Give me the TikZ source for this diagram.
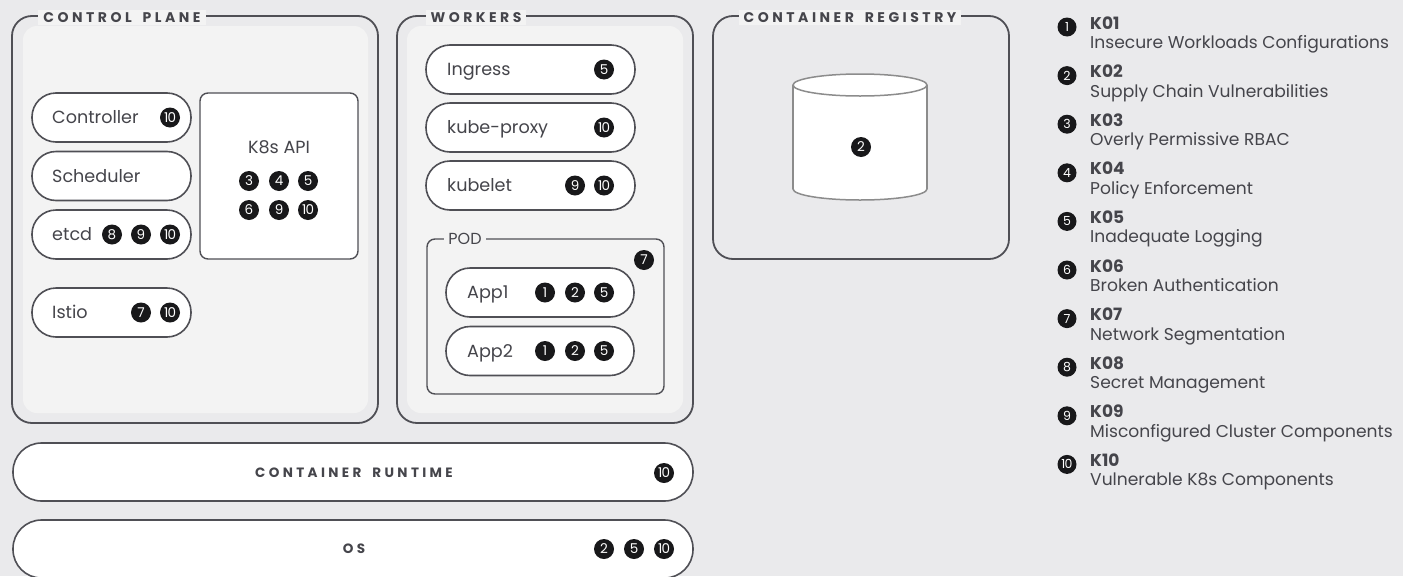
\documentclass[tikz,border=0pt]{standalone}
\usepackage{fontspec}
\setmainfont{Poppins}
\newfontfamily\spacedfont[LetterSpace=25]{Poppins}
\definecolor{bgc}{HTML}{EAEAEC}
\definecolor{panelc}{HTML}{F3F3F3}
\definecolor{strokec}{HTML}{4F4F55}
\definecolor{txtc}{HTML}{45454B}
\definecolor{badgec}{HTML}{18181A}
\definecolor{cylc}{HTML}{8C8C8C}
\begin{document}
\begin{tikzpicture}[x=1pt,y=-1pt,
  frame/.style={draw=strokec, line width=1.8pt, rounded corners=20pt, inner sep=0pt},
  panel/.style={fill=panelc, rounded corners=14pt, inner sep=0pt},
  pill/.style={draw=strokec, line width=1.6pt, fill=white, rounded corners=24pt, inner sep=0pt, minimum height=49pt},
  wide/.style={draw=strokec, line width=1.6pt, fill=white, rounded corners=28.5pt, inner sep=0pt, minimum height=58pt, minimum width=680pt},
  box/.style={draw=strokec, line width=1.4pt, rounded corners=8pt, inner sep=0pt},
  badge/.style={circle, fill=badgec, text=white, inner sep=0pt, minimum size=20pt, font=\fontsize{13.5}{13.5}\selectfont},
  lbadge/.style={badge, minimum size=19pt, font=\fontsize{12.5}{12.5}\selectfont},
  ptext/.style={anchor=west, text=txtc, inner sep=0pt, text height=12.6pt, text depth=0pt, font=\fontsize{17.6}{18}\selectfont},
  title/.style={fill=panelc, text=txtc, inner xsep=5pt, inner ysep=2pt, font=\spacedfont\bfseries\fontsize{14}{14}\selectfont},
  captext/.style={text=txtc, inner sep=0pt, font=\spacedfont\bfseries\fontsize{13.5}{14}\selectfont},
  kt/.style={anchor=base west, text=txtc, inner sep=0pt, font=\bfseries\fontsize{17}{17}\selectfont},
  dt/.style={anchor=base west, text=txtc, inner sep=0pt, font=\fontsize{17.1}{17}\selectfont}
]
\useasboundingbox[fill=bgc] (0,0) rectangle (1403,576);
\newcommand{\ten}{1\kern-0.8pt0}
\newcommand{\wsp}{\hspace{11pt}}

% ---------- CONTROL PLANE ----------
\node[frame, minimum width=366pt, minimum height=407pt] (cp) at (195,219.5) {};
\node[panel, minimum width=345pt, minimum height=387pt] (cpp) at (195.5,219.5) {};
\node[title] (cpt) at (122,17.5) {CONTROL\wsp PLANE};

\node[pill, minimum width=159pt] (ctrl) at (111.5,117.5) {};
\node[ptext] (ctrlt) at (52,117.5) {Controller};
\node[badge] (ctrlb) at (170,117.5) {\ten};

\node[pill, minimum width=159pt] (sched) at (111.5,176) {};
\node[ptext] (schedt) at (52,176) {Scheduler};

\node[pill, minimum width=159pt] (etcd) at (111.5,234.5) {};
\node[ptext] (etcdt) at (52,234.5) {etcd};
\node[badge] (etcd8) at (112,234.5) {8};
\node[badge] (etcd9) at (141,234.5) {9};
\node[badge] (etcd10) at (170,234.5) {\ten};

\node[pill, minimum width=159pt] (istio) at (111.5,312.5) {};
\node[ptext] (istiot) at (52,312.5) {Istio};
\node[badge] (istio7) at (141,312.5) {7};
\node[badge] (istio10) at (170,312.5) {\ten};

\node[box, fill=white, minimum width=158pt, minimum height=166pt] (api) at (279,176) {};
\node[ptext, anchor=center] (apit) at (279,147) {K8s API};
\node[badge] (api3) at (249,181) {3};
\node[badge] (api4) at (279,181) {4};
\node[badge] (api5) at (308,181) {5};
\node[badge] (api6) at (249,210) {6};
\node[badge] (api9) at (279,210) {9};
\node[badge] (api10) at (308,210) {\ten};

% ---------- WORKERS ----------
\node[frame, minimum width=296pt, minimum height=407pt] (wk) at (545,219.5) {};
\node[panel, minimum width=276pt, minimum height=387pt] (wkp) at (545,219.5) {};
\node[title] (wkt) at (476,17.5) {WORKERS};

\node[pill, minimum width=209pt] (ing) at (530.5,69.5) {};
\node[ptext] (ingt) at (447,69.5) {Ingress};
\node[badge] (ing5) at (604,69.5) {5};

\node[pill, minimum width=209pt] (kp) at (530.5,127.5) {};
\node[ptext] (kpt) at (447,127.5) {kube-proxy};
\node[badge] (kp10) at (604,127.5) {\ten};

\node[pill, minimum width=209pt] (kl) at (530.5,185.5) {};
\node[ptext] (klt) at (447,185.5) {kubelet};
\node[badge] (kl9) at (575,185.5) {9};
\node[badge] (kl10) at (604,185.5) {\ten};

\node[box, minimum width=237pt, minimum height=155pt] (pod) at (545.5,316.5) {};
\node[fill=panelc, text=txtc, inner xsep=4pt, inner ysep=1pt, font=\fontsize{16}{16}\selectfont] (podt) at (465,238.5) {POD};
\node[badge] (pod7) at (644,260) {7};

\node[pill, minimum width=188pt] (app1) at (540,292.5) {};
\node[ptext] (app1t) at (467,292.5) {App1};
\node[badge] (app1a) at (545,292.5) {1};
\node[badge] (app1b) at (575,292.5) {2};
\node[badge] (app1c) at (604,292.5) {5};

\node[pill, minimum width=188pt] (app2) at (540,351) {};
\node[ptext] (app2t) at (467,351) {App2};
\node[badge] (app2a) at (545,351) {1};
\node[badge] (app2b) at (575,351) {2};
\node[badge] (app2c) at (604,351) {5};

% ---------- CONTAINER REGISTRY ----------
\node[frame, minimum width=296pt, minimum height=243pt] (reg) at (861,137.5) {};
\node[title] (regt) at (850,17.5) {CONTAINER\wsp REGISTRY};
\fill[white] (793,85) rectangle (927,189);
\fill[white] (860,189) ellipse (67 and 11);
\begin{scope}
  \clip (780,189) rectangle (940,215);
  \draw[cylc, line width=1.5pt] (860,189) ellipse (67 and 11);
\end{scope}
\draw[cylc, line width=1.5pt] (793,85) -- (793,189);
\draw[cylc, line width=1.5pt] (927,85) -- (927,189);
\draw[cylc, line width=1.5pt, fill=white] (860,85) ellipse (67 and 11);
\node[badge] (reg2) at (861,147) {2};

% ---------- RUNTIME / OS ----------
\node[wide] (cr) at (353,472) {};
\node[captext] (crt) at (354,473) {CONTAINER\wsp RUNTIME};
\node[badge] (cr10) at (664,473) {\ten};

\node[wide] (os) at (353,549) {};
\node[captext] (ost) at (354,549) {OS};
\node[badge] (os2) at (604,549) {2};
\node[badge] (os5) at (634,549) {5};
\node[badge] (os10) at (664,549) {\ten};

% ---------- LEGEND ----------
\foreach \i/\k/\d/\n in {
  0/K01/Insecure Workloads Configurations/1,
  1/K02/Supply Chain Vulnerabilities/2,
  2/K03/Overly Permissive RBAC/3,
  3/K04/Policy Enforcement/4,
  4/K05/Inadequate Logging/5,
  5/K06/Broken Authentication/6,
  6/K07/Network Segmentation/7,
  7/K08/Secret Management/8,
  8/K09/Misconfigured Cluster Components/9,
  9/K10/Vulnerable K8s Components/\ten}{
  \node[lbadge] (lb\i) at (1067,{27+48.6*\i}) {\n};
  \node[kt] (lk\i) at (1090,{29+48.6*\i}) {\k};
  \node[dt] (ld\i) at (1090,{48.5+48.6*\i}) {\d};
}
\end{tikzpicture}
\end{document}
